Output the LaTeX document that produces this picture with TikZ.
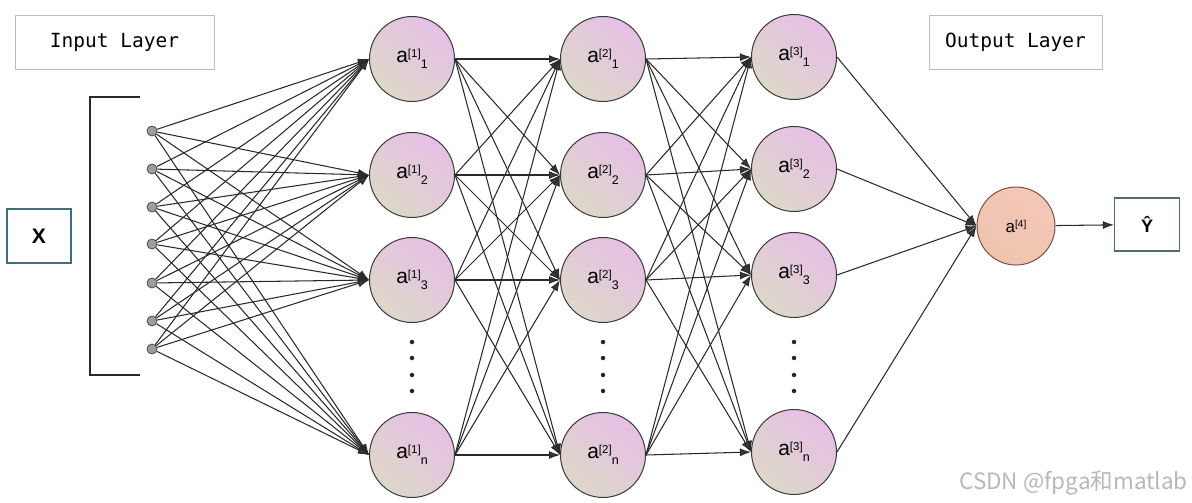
\documentclass[tikz,border=0pt]{standalone}
\usepackage{fontspec}
\setmainfont{Liberation Sans}
\newfontfamily\monof{DejaVu Sans Mono}
\newfontfamily\cjkf{Noto Sans CJK SC}
\usetikzlibrary{arrows.meta}
\definecolor{edgec}{HTML}{2A2A2A}
\definecolor{tipc}{HTML}{383838}
\definecolor{nbord}{HTML}{3A3A3A}
\definecolor{npink}{HTML}{E6BFE6}
\definecolor{nbeige}{HTML}{DDD8C8}
\definecolor{opink}{HTML}{F4C6B8}
\definecolor{obeige}{HTML}{EEC4AE}
\definecolor{obord}{HTML}{7A5040}
\definecolor{teal1}{HTML}{3F6E7E}
\definecolor{teal2}{HTML}{4E6E6E}
\definecolor{lbox}{HTML}{BDBDBD}
\newcommand{\alab}[2]{a\raisebox{5pt}{\fontsize{11.5}{11.5}\selectfont[#1]}\raisebox{-6pt}{\fontsize{12.5}{12.5}\selectfont #2}}
\begin{document}
\begin{tikzpicture}[x=1pt,y=-1pt,
  neuron/.style={circle,draw=nbord,line width=1pt,minimum size=85pt,inner sep=0pt,
    left color=npink,right color=nbeige,shading angle=-40,
    font=\fontsize{21}{21}\selectfont},
  outneuron/.style={circle,draw=obord,line width=1pt,minimum size=78pt,inner sep=0pt,
    left color=opink,right color=obeige,shading angle=-40,
    font=\fontsize{17}{17}\selectfont},
  indot/.style={circle,draw=black!70,fill=black!38,line width=0.8pt,minimum size=10pt,inner sep=0pt},
  conn/.style={draw=edgec,line width=1.05pt,-{Latex[length=11pt,width=8pt,fill=tipc]}},
  labbox/.style={draw=lbox,line width=0.9pt,font=\monof\fontsize{19.5}{19.5}\selectfont,inner sep=0pt},
  iobox/.style={draw=teal1,line width=1.3pt,inner sep=0pt,font=\bfseries},
  vdot/.style={circle,fill=black!85,minimum size=4.5pt,inner sep=0pt}
]
\useasboundingbox (0,0) rectangle (1192,503);

% title boxes
\node[labbox,minimum width=199pt,minimum height=54pt] (inlab) at (114.5,42) {Input Layer};
\node[labbox,minimum width=173pt,minimum height=54pt] (outlab) at (1015.5,42) {Output Layer};

% X box and bracket
\node[iobox,minimum width=64pt,minimum height=54pt,font=\bfseries\fontsize{21}{21}\selectfont] (X) at (39,236) {X};
\draw[edgec,line width=1.2pt] (140,97) -- (90,97) -- (90,375) -- (140,375);

% input dots
\foreach \i/\y in {1/131,2/169,3/207,4/244,5/283,6/321,7/349}
  \node[indot] (I\i) at (152,\y) {};

% layer 1
\foreach \i/\y/\s in {1/59/1,2/175/2,3/280/3,4/455/n}
  \node[neuron] (A\i) at (412,\y) {\alab{1}{\s}};
% layer 2
\foreach \i/\y/\s in {1/59/1,2/175/2,3/280/3,4/455/n}
  \node[neuron] (B\i) at (603,\y) {\alab{2}{\s}};
% layer 3
\foreach \i/\y/\s in {1/57/1,2/169/2,3/275/3,4/452/n}
  \node[neuron] (C\i) at (794,\y) {\alab{3}{\s}};

% output neuron and Y hat
\node[outneuron] (D) at (1016,226) {a\raisebox{5pt}{\fontsize{10}{10}\selectfont[4]}};
\node[iobox,draw=teal2,line width=1.2pt,minimum width=65pt,minimum height=53pt,font=\bfseries\fontsize{18}{18}\selectfont] (Y) at (1147,224.5) {Ŷ};

% vertical ellipsis dots
\foreach \x/\n in {412/a,603/b,794/c}
  \foreach \y/\k in {342/1,358/2,375/3,391/4}
    \node[vdot] (dot\n\k) at (\x,\y) {};

% connections
\foreach \i in {1,...,7}
  \foreach \j in {1,...,4}
    \draw[conn] (I\i) -- (A\j.west);
\foreach \i in {1,...,4}
  \foreach \j in {1,...,4}
    \draw[conn] (A\i.east) -- (B\j.west);
\foreach \i in {1,...,4}
  \foreach \j in {1,...,4}
    \draw[conn] (B\i.east) -- (C\j.west);
\foreach \i in {1,...,4}
  \draw[conn] (C\i.east) -- (D.west);
\draw[conn] (D) -- (Y);

% watermark
\node[anchor=east,text=black!28,font=\cjkf\fontsize{22.5}{22.5}\selectfont,inner sep=0pt] (wm) at (1188,483) {CSDN @fpga和matlab};
\end{tikzpicture}
\end{document}
